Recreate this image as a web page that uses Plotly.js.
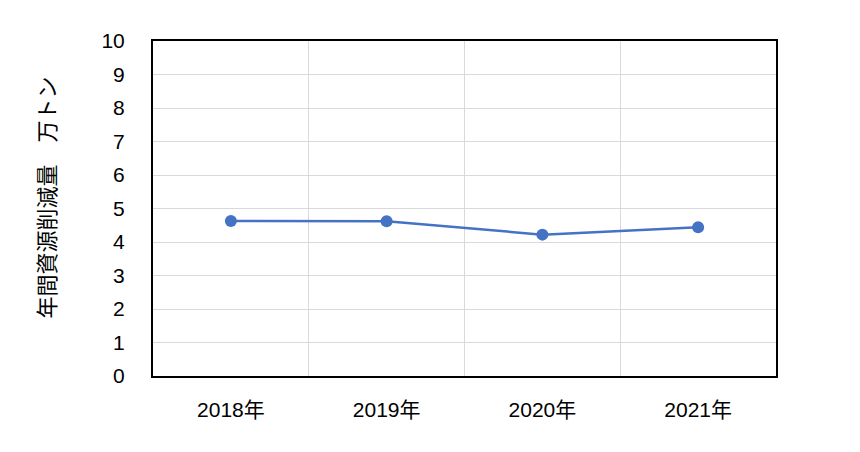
<!DOCTYPE html>
<html><head><meta charset="utf-8">
<script src="https://cdn.plot.ly/plotly-3.0.1.min.js"></script>
<style>body{margin:0;background:#fff}</style>
</head><body>
<div id="chart" style="width:860px;height:452px"></div>
<script>
const categories = ["2018年", "2019年", "2020年", "2021年"];
const values = [4.63, 4.62, 4.22, 4.44];
const yTicks = [0,1,2,3,4,5,6,7,8,9,10];
const yTitle = "年間資源削減量　万トン";

const font = "Liberation Sans, Arial, Noto Sans CJK JP, sans-serif";
Plotly.newPlot("chart", [{
  x: categories, y: values, type: "scatter", mode: "lines+markers",
  line: {color: "#4472C4", width: 2.5},
  marker: {color: "#4472C4", size: 12},
  hoverinfo: "skip"
}], {
  width: 860, height: 452,
  margin: {l: 153, r: 84, t: 41, b: 76},
  paper_bgcolor: "#fff", plot_bgcolor: "#fff",
  showlegend: false,
  font: {family: font, size: 21, color: "#000"},
  xaxis: {
    type: "category", range: [-0.5, 3.5], tickson: "boundaries",
    showgrid: true, gridcolor: "#d9d9d9", gridwidth: 1,
    showline: true, linecolor: "#000", linewidth: 2, mirror: true,
    ticks: "", ticklabelstandoff: 14, zeroline: false,
    tickfont: {family: font, size: 21, color: "#000"}
  },
  yaxis: {
    range: [0, 10], tickvals: yTicks, ticktext: yTicks.map(String),
    showgrid: true, gridcolor: "#d9d9d9", gridwidth: 1,
    showline: true, linecolor: "#000", linewidth: 2, mirror: true,
    ticks: "", ticklabelstandoff: 22, zeroline: false,
    tickfont: {family: font, size: 21, color: "#000"}
  },
  annotations: [{
    text: yTitle, textangle: -90, showarrow: false,
    xref: "paper", yref: "paper", x: 0, y: 0.533,
    xanchor: "center", yanchor: "middle", xshift: -108,
    font: {family: "Noto Sans CJK JP, sans-serif", size: 22, color: "#000"}
  }]
}, {staticPlot: true, displayModeBar: false});
</script>
</body></html>
